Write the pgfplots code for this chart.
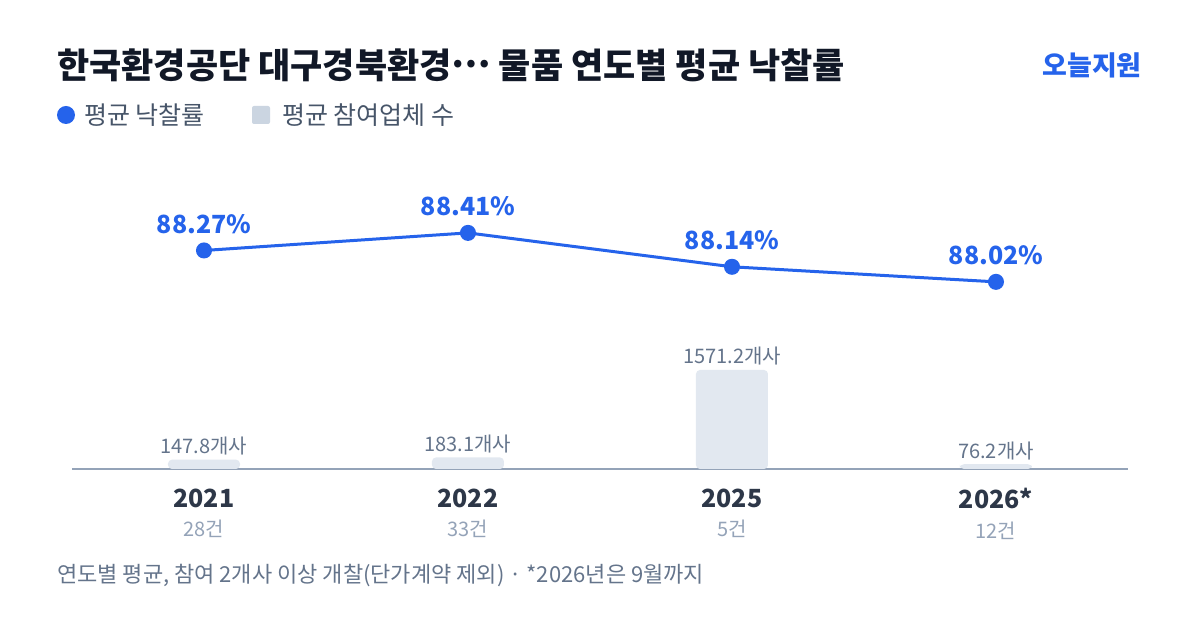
\documentclass[border=0pt]{standalone}
\usepackage{fontspec}
\setmainfont{Noto Sans CJK KR}
\usepackage{pgfplots}
\pgfplotsset{compat=1.18}

\definecolor{cblue}{HTML}{2563EB}
\definecolor{cbar}{HTML}{E2E8F0}
\definecolor{clegbar}{HTML}{CBD5E1}
\definecolor{cbase}{HTML}{94A3B8}
\definecolor{cbarlab}{HTML}{64748B}
\definecolor{cyear}{HTML}{2D3748}
\definecolor{ccount}{HTML}{94A3B8}
\definecolor{ctitle}{HTML}{111827}
\definecolor{clegtxt}{HTML}{475569}
\definecolor{cnote}{HTML}{64748B}

\newcommand{\fs}[1]{\fontsize{#1bp}{#1bp}\selectfont}
% positions in bp, measured from the bottom left of the 1200x630 picture
\begin{document}
\begin{tikzpicture}
\fill[white] (0bp,0bp) rectangle (1200bp,630bp);

% title and brand
\node[anchor=west,text=ctitle,inner sep=0] at (57bp,565bp) {\fs{35}\bfseries 한국환경공단 대구경북환경\raisebox{0.3em}{…} 물품 연도별 평균 낙찰률};
\node[anchor=east,text=cblue,inner sep=0] at (1142bp,565bp) {\fs{27}\bfseries 오늘지원};

% legend
\fill[cblue] (66bp,515bp) circle (9bp);
\node[anchor=west,text=clegtxt,inner sep=0] at (84bp,515bp) {\fs{25}평균 낙찰률};
\fill[clegbar,rounded corners=2bp] (252bp,506bp) rectangle (270bp,524bp);
\node[anchor=west,text=clegtxt,inner sep=0] at (282bp,515bp) {\fs{25}평균 참여업체 수};

% bars: average number of bidders
\begin{axis}[
  at={(72bp,161bp)}, anchor=south west,
  scale only axis, width=1056bp, height=100bp,
  xmin=-0.5, xmax=3.5, ymin=0, ymax=1587,
  axis x line*=bottom, axis y line=none,
  x axis line style={cbase,line width=1.5bp,-},
  xtick={0,1,2,3}, major tick length=0,
  xticklabels={
    {\fs{25}\bfseries 2021\\[12bp]\fs{20}\color{ccount}28건},
    {\fs{25}\bfseries 2022\\[12bp]\fs{20}\color{ccount}33건},
    {\fs{25}\bfseries 2025\\[12bp]\fs{20}\color{ccount}5건},
    {\fs{25}\bfseries 2026*\\[12bp]\fs{20}\color{ccount}12건}},
  xticklabel style={align=center,text=cyear,yshift=-16bp},
  ybar, bar width=72bp,
  clip=false,
  nodes near coords={\pgfplotspointmeta},
  point meta=explicit symbolic,
  every node near coord/.append style={font=\fs{20},text=cbarlab,yshift=1bp},
]
\addplot[fill=cbar,draw=none,rounded corners=4bp] coordinates {
  (0,147.8) [147.8개사]
  (1,183.1) [183.1개사]
  (2,1571.2) [1571.2개사]
  (3,76.2) [76.2개사]
};
\end{axis}

% line: average winning rate
\begin{axis}[
  at={(72bp,161bp)}, anchor=south west,
  scale only axis, width=1056bp, height=319bp,
  xmin=-0.5, xmax=3.5, ymin=86.53, ymax=89.07,
  axis lines=none, ticks=none, clip=false,
  nodes near coords={\pgfplotspointmeta},
  point meta=explicit symbolic,
  every node near coord/.append style={font=\fs{25}\bfseries,text=cblue,yshift=12bp},
]
\addplot[cblue,line width=3bp,mark=*,mark size=6.5bp,mark options={fill=cblue,draw=none}] coordinates {
  (0,88.27) [88.27\%]
  (1,88.41) [88.41\%]
  (2,88.14) [88.14\%]
  (3,88.02) [88.02\%]
};
\end{axis}

% footnote
\node[anchor=west,text=cnote,inner sep=0] at (57bp,54bp) {\fs{22}연도별 평균, 참여 2개사 이상 개찰(단가계약 제외) · *2026년은 9월까지};
\end{tikzpicture}
\end{document}
